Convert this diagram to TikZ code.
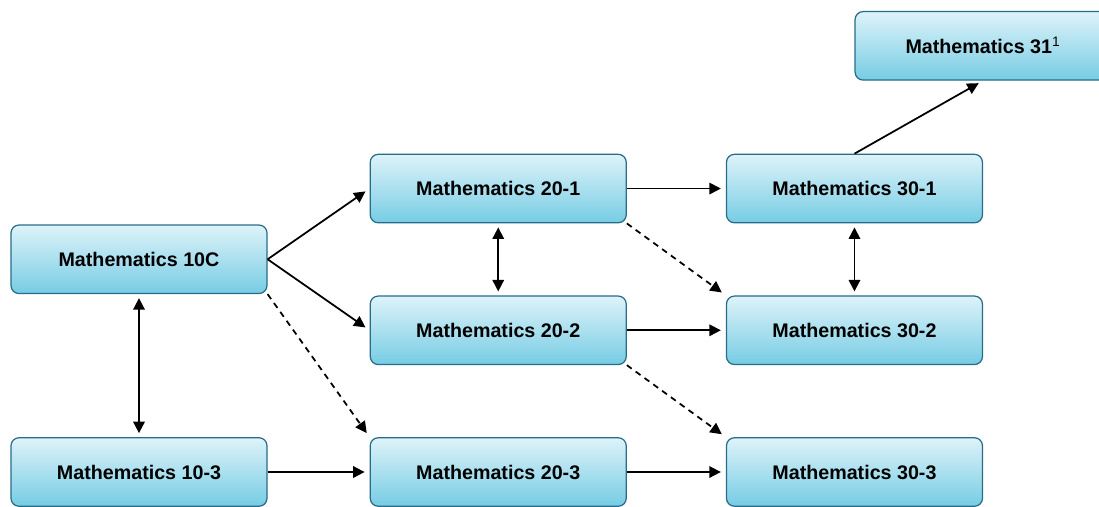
\documentclass[tikz,border=0pt]{standalone}
\usepackage{fontspec}
\setmainfont{Liberation Sans}
\usepackage{tikz}
\usetikzlibrary{positioning}
\usetikzlibrary{arrows.meta}
\definecolor{boxtop}{RGB}{222,243,249}
\definecolor{boxbottom}{RGB}{118,204,228}
\definecolor{boxborder}{RGB}{40,108,138}
\begin{document}
\begin{tikzpicture}
			[
				mathbox/.style = {draw = boxborder, rectangle, line width = 0.7pt, rounded corners = 0.16cm, top color = boxtop, bottom color = boxbottom, minimum height = 1.37cm, minimum width = 5.12cm, font = \fontsize{11.2}{13}\selectfont\bfseries},
				myarrow/.style = {-{Triangle[length = 6.5pt, width = 6.5pt]}, line width = 1pt, shorten > = 0.1cm},
				mydoublearrow/.style = {{Triangle[length = 6.5pt, width = 6.5pt]}-{Triangle[length = 6.5pt, width = 6.5pt]}, line width = 1pt, shorten > = 0.08cm, shorten < = 0.08cm},
				mydashedarrow/.style = {myarrow, dash pattern = on 3.4pt off 2.8pt}
			]
			\clip (0,0) rectangle (21.98,-10.12);
			%
			\node (m103) [mathbox] at (2.78,-9.44) {Mathematics 10-3};
			\node (m203) [mathbox, right = 2.04cm of m103] {Mathematics 20-3};
			\node (m303) [mathbox, right = 1.98cm of m203] {Mathematics 30-3};
			%
			\node (m202) [mathbox, above = 1.44cm of m203] {Mathematics 20-2};
			\node (m201) [mathbox, above = 1.44cm of m202] {Mathematics 20-1};
			\node (m302) [mathbox, above = 1.44cm of m303] {Mathematics 30-2};
			\node (m301) [mathbox, above = 1.44cm of m302] {Mathematics 30-1};
			%
			\node (m10c) [mathbox, above = 2.86cm of m103] {Mathematics 10C};
			\node (m31) [mathbox, above = 1.46cm of m301.north east] {Mathematics 31\textsuperscript{\mdseries 1}};
			%
			\draw [myarrow] (m10c.east) -- (m201.west);
			\draw [myarrow] (m10c.east) -- (m202.west);
			\draw [mydashedarrow] (m10c.south east) -- (m203.north west);
			\draw [mydoublearrow] (m10c) -- (m103);
			\draw [myarrow] (m103) -- (m203);
			%
			\draw [mydoublearrow] (m201) -- (m202);
			\draw [myarrow] (m201) -- (m301);
			\draw [mydashedarrow] (m201.south east) -- (m302.north west);
			\draw [myarrow] (m202) -- (m302);
			\draw [mydashedarrow] (m202.south east) -- (m303.north west);
			\draw [myarrow] (m203) -- (m303);
			%
			\draw [mydoublearrow] (m301) -- (m302);
			\draw [myarrow] (m301.north) -- (m31.south);
			%
		\end{tikzpicture}
\end{document}
